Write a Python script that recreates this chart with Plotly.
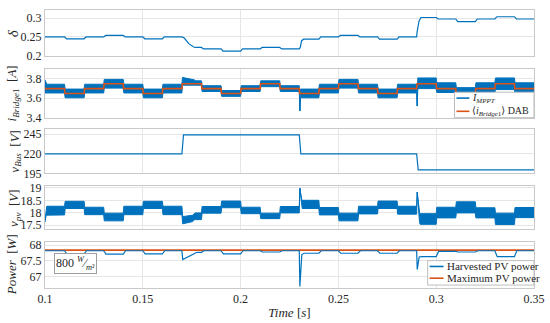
import plotly.graph_objects as go

# ---------------- data ----------------
T_EDGES = [0.10, 0.11, 0.12, 0.13, 0.14, 0.15, 0.16, 0.17, 0.18, 0.19, 0.20, 0.21, 0.22,
           0.23, 0.24, 0.25, 0.26, 0.27, 0.28, 0.29, 0.30, 0.31, 0.32, 0.33, 0.34, 0.35]

# duty ratio delta per 10 ms MPPT step
DELTA = [0.250, 0.245, 0.250, 0.254, 0.250, 0.245, 0.250, 0.222, 0.218, 0.212, 0.218, 0.222, 0.218,
         0.244, 0.250, 0.254, 0.250, 0.244, 0.250, 0.302, 0.298, 0.291, 0.298, 0.304, 0.298]
DELTA_EVENTS = {7: [(0.1712, 0.247), (0.1735, 0.232), (0.1760, 0.223)],
                13: [(0.2305, 0.222), (0.2312, 0.240)],
                19: [(0.2902, 0.262), (0.2912, 0.292)]}

# bridge current: average (DAB) and I_MPPT ripple envelope
I_AVG = [3.70, 3.65, 3.70, 3.75, 3.70, 3.65, 3.70, 3.75, 3.70, 3.65, 3.70, 3.75, 3.70,
         3.65, 3.70, 3.75, 3.70, 3.65, 3.70, 3.75, 3.70, 3.65, 3.70, 3.75, 3.70]
I_HI = [3.745, 3.695, 3.745, 3.795, 3.745, 3.695, 3.745, 3.780, 3.730, 3.680, 3.730, 3.780, 3.730,
        3.695, 3.745, 3.795, 3.745, 3.695, 3.745, 3.810, 3.760, 3.710, 3.760, 3.810, 3.760]
I_LO = [3.655, 3.605, 3.655, 3.705, 3.655, 3.605, 3.655, 3.735, 3.670, 3.620, 3.670, 3.720, 3.670,
        3.605, 3.655, 3.705, 3.655, 3.605, 3.655, 3.700, 3.660, 3.600, 3.660, 3.690, 3.650]
I_HI_EVENTS = {0: [(0.1000, 3.790), (0.1006, 3.750)],
               7: [(0.1703, 3.815), (0.1765, 3.790)],
               13: [(0.2303, 3.470)],
               19: [(0.2903, 3.520)]}
I_LO_EVENTS = {7: [(0.1703, 3.740)],
               13: [(0.2303, 3.470)],
               19: [(0.2903, 3.520)]}

# DC bus voltage
V_BUS = [220, 220, 220, 220, 220, 220, 220, 244, 244, 244, 244, 244, 244,
         220, 220, 220, 220, 220, 220, 199.5, 199.5, 199.5, 199.5, 199.5, 199.5]

# PV voltage ripple envelope
VPV_HI = [18.26, 18.46, 18.22, 17.98, 18.26, 18.46, 18.26, 17.99, 18.25, 18.47, 18.22, 17.98, 18.25,
          18.50, 18.21, 17.98, 18.26, 18.47, 18.26, 17.96, 18.22, 18.44, 18.20, 17.98, 18.21]
VPV_LO = [17.91, 18.17, 17.92, 17.67, 17.92, 18.17, 17.92, 17.72, 17.98, 18.20, 17.96, 17.76, 17.99,
          18.17, 17.91, 17.67, 17.95, 18.17, 17.94, 17.53, 17.79, 17.99, 17.79, 17.52, 17.80]
VPV_HI_EVENTS = {0: [(0.1000, 17.70), (0.1006, 18.20)],
                 7: [(0.1704, 17.84), (0.1755, 17.90), (0.1765, 17.98)],
                 13: [(0.2303, 18.99), (0.2312, 18.55)],
                 19: [(0.2903, 18.83), (0.2915, 18.00)]}
VPV_LO_EVENTS = {0: [(0.1000, 17.62), (0.1006, 17.90)],
                 7: [(0.1704, 17.55), (0.1755, 17.64), (0.1765, 17.72)],
                 13: [(0.2303, 18.99), (0.2312, 18.40)],
                 19: [(0.2903, 18.83), (0.2915, 17.60)]}

# PV power
P_HARV = [67.82, 67.72, 67.82, 67.71, 67.82, 67.72, 67.82, 67.77, 67.82, 67.72, 67.82, 67.78, 67.82,
          67.74, 67.82, 67.74, 67.82, 67.74, 67.82, 67.63, 67.80, 67.78, 67.82, 67.63, 67.82]
P_HARV_EVENTS = {7: [(0.1704, 67.54), (0.1765, 67.72)],
                 13: [(0.2303, 66.68), (0.2313, 67.70)],
                 19: [(0.2903, 67.22), (0.2913, 67.62)]}
P_MAX = 67.84

X_TICKS = [0.1, 0.15, 0.2, 0.25, 0.3, 0.35]
X_TICKTEXT = ["0.1", "0.15", "0.2", "0.25", "0.3", "0.35"]
Y_TICKS = [[0.2, 0.25, 0.3], [3.4, 3.6, 3.8], [195, 220, 245], [17.5, 18, 18.5, 19], [67, 67.5, 68]]
Y_TICKTEXT = [["0.2", "0.25", "0.3"], ["3.4", "3.6", "3.8"], ["195", "220", "245"],
              ["17.5", "18", "18.5", "19"], ["67", "67.5", "68"]]
Y_RANGES = [[0.199, 0.322], [3.40, 3.905], [195, 251], [17.33, 19.07], [66.63, 68.10]]
Y_TITLES = ["<i>δ</i>",
            "<i>i</i><sub><i>Bridge</i>1</sub>  [<i>A</i>]",
            "<i>v</i><sub><i>Bus</i></sub>  [<i>V</i>]",
            "<i>v</i><sub><i>pv</i></sub>  [<i>V</i>]",
            "<i>Power</i>  [<i>W</i>]"]
LEG1_NAMES = ["<i>I</i><sub><i>MPPT</i></sub>", "⟨<i>i</i><sub><i>Bridge</i>1</sub>⟩ DAB"]
LEG2_NAMES = ["Harvested PV power", "Maximum PV power"]
IRRADIANCE_LABEL = "800 <sup><i>W</i></sup>⁄<sub><i>m</i>²</sub>"


# ---------------- helpers ----------------
def steps(levels, events=None, ramp=0.0003):
    events = events or {}
    xs, ys = [], []
    for k, lv in enumerate(levels):
        x0, x1 = T_EDGES[k], T_EDGES[k + 1]
        start = x0 if k == 0 else x0 + ramp
        if k in events:
            for t, v in events[k]:
                xs.append(t)
                ys.append(v)
            start = events[k][-1][0] + ramp
        xs += [start, x1]
        ys += [lv, lv]
    return xs, ys


BLUE = "#0072BD"
ORANGE = "#D95319"
FONT = "Liberation Serif, Times New Roman, DejaVu Serif, serif"
TXT = "#262626"
GRID = "#e6e6e6"
FRAME = "#c9c9c9"
LEGBOX = "#bdbdbd"

fig = go.Figure()

# panel 1: delta
dx, dy = steps(DELTA, DELTA_EVENTS, ramp=0.0010)
fig.add_trace(go.Scatter(x=dx, y=dy, mode="lines", line=dict(color=BLUE, width=1.2),
                         name="δ", showlegend=False, xaxis="x", yaxis="y"))

# panel 2: bridge current
hx, hy = steps(I_HI, I_HI_EVENTS)
lx, ly = steps(I_LO, I_LO_EVENTS)
fig.add_trace(go.Scatter(x=hx + lx[::-1], y=hy + ly[::-1], mode="lines", fill="toself",
                         fillcolor=BLUE, line=dict(color=BLUE, width=1),
                         name="I_MPPT", showlegend=False, xaxis="x2", yaxis="y2"))
ax, ay = steps(I_AVG, None, ramp=0.0002)
fig.add_trace(go.Scatter(x=ax, y=ay, mode="lines", line=dict(color=ORANGE, width=1.6),
                         name="i_Bridge1 DAB", showlegend=False, xaxis="x2", yaxis="y2"))

# panel 3: bus voltage
bx, by = steps(V_BUS, None, ramp=0.0008)
fig.add_trace(go.Scatter(x=bx, y=by, mode="lines", line=dict(color=BLUE, width=1.2),
                         name="v_Bus", showlegend=False, xaxis="x3", yaxis="y3"))

# panel 4: PV voltage
vhx, vhy = steps(VPV_HI, VPV_HI_EVENTS)
vlx, vly = steps(VPV_LO, VPV_LO_EVENTS)
fig.add_trace(go.Scatter(x=vhx + vlx[::-1], y=vhy + vly[::-1], mode="lines", fill="toself",
                         fillcolor=BLUE, line=dict(color=BLUE, width=1),
                         name="v_pv", showlegend=False, xaxis="x4", yaxis="y4"))

# panel 5: power
fig.add_trace(go.Scatter(x=[T_EDGES[0], T_EDGES[-1]], y=[P_MAX, P_MAX], mode="lines",
                         line=dict(color=ORANGE, width=1.6), name=LEG2_NAMES[1],
                         showlegend=False, xaxis="x5", yaxis="y5"))
px_, py_ = steps(P_HARV, P_HARV_EVENTS, ramp=0.0012)
fig.add_trace(go.Scatter(x=px_, y=py_, mode="lines", line=dict(color=BLUE, width=1.2),
                         name=LEG2_NAMES[0], showlegend=False, xaxis="x5", yaxis="y5"))

# ---------------- layout ----------------
L, R, T, B = 45, 13, 5, 34
PW, PH = 550 - L - R, 323 - T - B


def pxx(p):  # pixel x -> paper x
    return (p - L) / PW


def pxy(p):  # pixel y -> paper y
    return (323 - B - p) / PH


panels_px = [(5, 52), (65, 115), (127, 172), (185, 229), (242, 289)]  # top,bottom px
title_x_px = [13, 12, 15, 15, 12]
domains = [[pxy(b), pxy(t)] for t, b in panels_px]

layout = dict(
    width=550, height=323,
    margin=dict(l=L, r=R, t=T, b=B),
    paper_bgcolor="white", plot_bgcolor="white",
    font=dict(family=FONT, size=12, color=TXT),
    showlegend=False,
)
annotations = []
for i in range(5):
    sfx = "" if i == 0 else str(i + 1)
    layout["xaxis" + sfx] = dict(
        domain=[0, 1], anchor="y" + sfx, range=[0.1, 0.35],
        tickvals=X_TICKS, ticktext=X_TICKTEXT, showticklabels=(i == 4),
        showgrid=True, gridcolor=GRID, gridwidth=1,
        showline=True, linecolor=FRAME, linewidth=1, mirror=True,
        zeroline=False, ticks="", tickfont=dict(size=12, color=TXT),
        matches=None if i == 0 else "x",
    )
    layout["yaxis" + sfx] = dict(
        domain=domains[i], anchor="x" + sfx, range=Y_RANGES[i],
        tickvals=Y_TICKS[i], ticktext=Y_TICKTEXT[i],
        showgrid=True, gridcolor=GRID, gridwidth=1,
        showline=True, linecolor=FRAME, linewidth=1, mirror=True,
        zeroline=False, ticks="", tickfont=dict(size=12, color=TXT),
    )
    t, b = panels_px[i]
    annotations.append(dict(text=Y_TITLES[i], xref="paper", yref="paper",
                            x=pxx(title_x_px[i]), y=pxy((t + b) / 2), textangle=-90,
                            xanchor="center", yanchor="middle", showarrow=False,
                            font=dict(size=15 if i == 0 else 13, color=TXT)))
layout["xaxis5"]["title"] = dict(text="<i>Time</i> [<i>s</i>]", font=dict(size=13, color=TXT), standoff=2)

# compact legends (box + line samples + labels)
shapes = []
legends = [
    dict(box=(457, 89, 537, 115), rows=[(95, BLUE, LEG1_NAMES[0]), (108.5, ORANGE, LEG1_NAMES[1])],
         sx=(459, 472), tx=473, fs=10),
    dict(box=(430, 261, 537, 286), rows=[(267, BLUE, LEG2_NAMES[0]), (279, ORANGE, LEG2_NAMES[1])],
         sx=(432, 446), tx=447, fs=11),
]
for lg in legends:
    x0, y0, x1, y1 = lg["box"]
    shapes.append(dict(type="rect", xref="paper", yref="paper", x0=pxx(x0), x1=pxx(x1),
                       y0=pxy(y1), y1=pxy(y0), line=dict(color=LEGBOX, width=1),
                       fillcolor="white", layer="above"))
    for yy, col, name in lg["rows"]:
        shapes.append(dict(type="line", xref="paper", yref="paper", x0=pxx(lg["sx"][0]),
                           x1=pxx(lg["sx"][1]), y0=pxy(yy), y1=pxy(yy),
                           line=dict(color=col, width=1.6), layer="above"))
        annotations.append(dict(text=name, xref="paper", yref="paper", x=pxx(lg["tx"]), y=pxy(yy),
                                xanchor="left", yanchor="middle", showarrow=False,
                                font=dict(size=lg["fs"], color=TXT)))

annotations.append(dict(
    text=IRRADIANCE_LABEL, xref="paper", yref="paper",
    x=pxx(76), y=pxy(263.5), xanchor="center", yanchor="middle", showarrow=False,
    bgcolor="white", bordercolor="#9e9e9e", borderwidth=1, borderpad=1,
    font=dict(size=12, color=TXT)))

layout["shapes"] = shapes
layout["annotations"] = annotations

fig.update_layout(**layout)
fig.write_html("out.html", config={"displayModeBar": False},
               post_script="document.body.style.margin='0px';")
